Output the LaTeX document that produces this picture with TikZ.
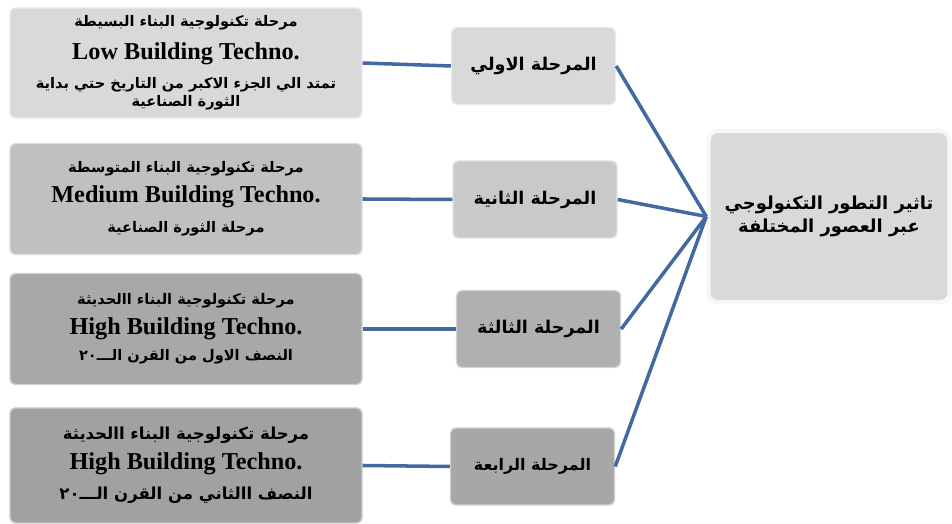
\documentclass[tikz,border=0pt]{standalone}
\usepackage{fontspec}
\usepackage{xcolor}
\usetikzlibrary{positioning}
\TeXXeTstate=1
\newfontfamily\arabicfont[Script=Arabic]{DejaVu Sans}
\newfontfamily\latinfont{Liberation Serif}
\newcommand{\artxt}[1]{{\arabicfont\bfseries\beginR #1\endR}}
\newcommand{\entxt}[1]{{\latinfont\bfseries\fontsize{13.8}{16}\selectfont #1}}
\definecolor{linkblue}{RGB}{66,106,160}
\definecolor{grayA}{RGB}{217,217,217}
\definecolor{grayB}{RGB}{192,192,192}
\definecolor{grayC}{RGB}{168,168,168}
\definecolor{grayD}{RGB}{161,161,161}
\definecolor{grayM}{RGB}{201,201,201}
\definecolor{grayN}{RGB}{176,176,176}
\definecolor{grayO}{RGB}{167,167,167}

\tikzset{
  erabox/.style={rounded corners=3pt, fill=#1, draw=#1!55!white, line width=0.8pt,
    minimum width=7.04cm, minimum height=2.22cm, align=center, inner sep=2pt,
    font=\fontsize{8.3}{17}\selectfont},
  stagebox/.style={rounded corners=3pt, fill=#1, draw=#1!55!white, line width=0.8pt,
    minimum width=3.28cm, minimum height=1.54cm, align=center,
    font=\fontsize{10}{13}\selectfont},
  link/.style={linkblue, line width=2pt}
}

\begin{document}
\begin{tikzpicture}

\useasboundingbox (0,0) rectangle (19.04,10.48);

%left boxes: building technology eras%
\node[erabox=grayA, minimum height=2.2cm] (era1) at (3.72,9.22)
  {\artxt{مرحلة تكنولوجية البناء البسيطة}\\[1.7pt]
   \entxt{Low Building Techno.}\\[-0.6pt]
   \artxt{تمتد الي الجزء الاكبر من التاريخ حتي بداية}\\[-6.8pt]
   \artxt{الثورة الصناعية}};
\node[erabox=grayB] (era2) at (3.72,6.5)
  {\artxt{مرحلة تكنولوجية البناء المتوسطة}\\
   \entxt{Medium Building Techno.}\\
   \artxt{مرحلة الثورة الصناعية}};
\node[erabox=grayC] (era3) at (3.72,3.9)
  {\artxt{مرحلة تكنولوجية البناء االحديثة}\\
   \entxt{High Building Techno.}\\[-2pt]
   \artxt{النصف الاول من القرن الـــ\beginL٢٠\endL}};
\node[erabox=grayD, minimum height=2.3cm, font=\fontsize{9.4}{17}\selectfont] (era4) at (3.72,1.17)
  {\artxt{مرحلة تكنولوجية البناء االحديثة}\\
   \entxt{High Building Techno.}\\
   \artxt{النصف االثاني من القرن الـــ\beginL٢٠\endL}};

%middle boxes: stages%
\node[stagebox=grayA] (stage1) at (10.67,9.16) {\artxt{المرحلة الاولي}};
\node[stagebox=grayM] (stage2) at (10.70,6.49) {\artxt{المرحلة الثانية}};
\node[stagebox=grayN] (stage3) at (10.77,3.90) {\artxt{المرحلة الثالثة}};
\node[stagebox=grayO, font=\fontsize{9.1}{12}\selectfont] (stage4) at (10.65,1.15) {\artxt{المرحلة الرابعة}};

%right box%
\node[rounded corners=5pt, fill=grayA, draw=white!80!grayA, line width=2.5pt,
  minimum width=4.82cm, minimum height=3.42cm, align=center,
  font=\fontsize{10.2}{13}\selectfont] (impact) at (16.58,6.15)
  {\artxt{تاثير التطور التكنولوجي}\\
   \artxt{عبر العصور المختلفة}};

%connectors%
\foreach \i in {1,...,4} \draw[link] (era\i.east) -- (stage\i.west);
\foreach \i in {1,...,4} \draw[link] (stage\i.east) -- (impact.west);

\end{tikzpicture}
\end{document}
